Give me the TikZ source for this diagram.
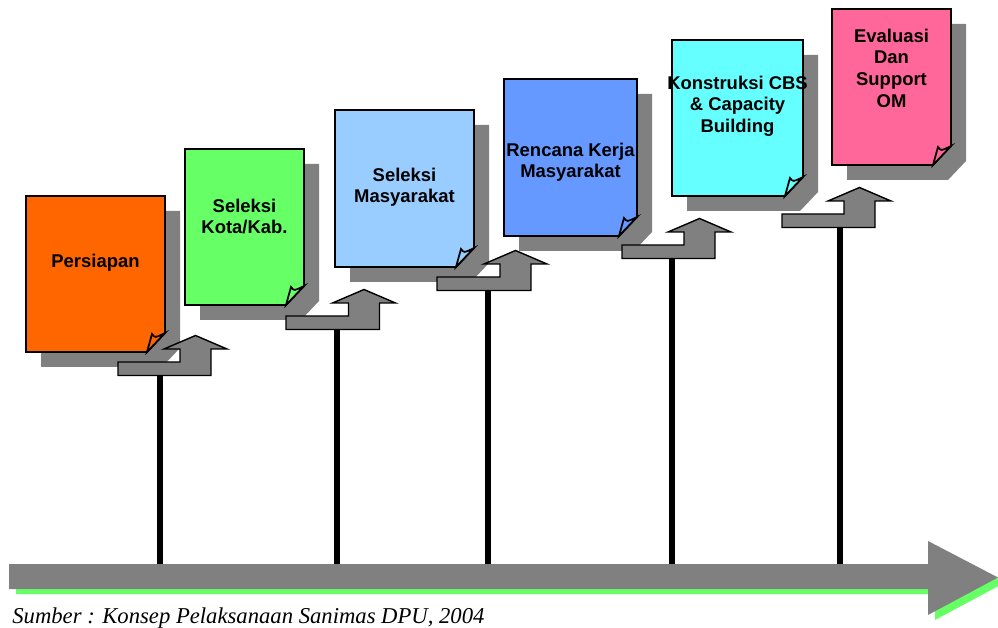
\documentclass[tikz,border=0pt]{standalone}
\usepackage{fontspec}
\setmainfont{Liberation Sans}
\newfontfamily\sourcefont{Liberation Serif}
\usepackage{tikz}
\usetikzlibrary{arrows}
\definecolor{cgray}{rgb}{0.5, 0.5, 0.5}
\definecolor{corange}{rgb}{1, 0.4, 0}
\definecolor{cgreen}{rgb}{0.4, 1, 0.4}
\definecolor{csky}{rgb}{0.6, 0.8, 1}
\definecolor{cblue}{rgb}{0.4, 0.6, 1}
\definecolor{ccyan}{rgb}{0.4, 1, 1}
\definecolor{cpink}{rgb}{1, 0.4, 0.6}

\newcommand{\docpage}[8]{%
  \fill[shadow node,shift={(15,15)}] (#2,#3) -- (#4,#3) -- (#4,#5-19) -- (#4-18,#5) -- (#2,#5) -- cycle;
  \draw[page node,fill=#6] (#2,#3) -- (#4,#3) -- (#4,#5-19) -- (#4-18,#5) -- (#2,#5) -- cycle;
  \draw[page node,fill=#6] (#4-18,#5) -- (#4-13,#5-18) .. controls (#4-10,#5-14) .. (#4,#5-19) -- cycle;
  \node[text node] (#1) at ({(#2+#4)/2},#8) {#7};
}

\begin{document}
\begin{tikzpicture}[x=0.02cm,y=-0.02cm,line join=miter,
  page node/.style={draw=black,line width=1pt},
  shadow node/.style={fill=cgray},
  text node/.style={anchor=north,align=center,inner sep=0pt,
    font=\fontsize{10.5}{12.3}\selectfont\bfseries},
  bent arrow/.style={draw=black,fill=cgray,line width=0.8pt},
  stem line/.style={draw=black,line width=3pt},
  source node/.style={anchor=base west,inner sep=0pt,
    font=\sourcefont\itshape\fontsize{12.9}{14}\selectfont}]
  \useasboundingbox (0,0) rectangle (998,628);

  \docpage{persiapan}{26}{196}{165}{352}{corange}{Persiapan}{253.5}
  \docpage{kota}{185}{149}{304}{305}{cgreen}{Seleksi\\Kota/Kab.}{198.5}
  \docpage{masyarakat}{335}{110}{474}{267}{csky}{Seleksi\\Masyarakat}{167.5}
  \docpage{rencana}{504}{79}{637}{236}{cblue}{Rencana Kerja\\Masyarakat}{142.5}
  \docpage{konstruksi}{672}{40}{803}{196}{ccyan}{Konstruksi CBS\\\& Capacity\\Building}{75.5}
  \docpage{evaluasi}{832}{9}{951}{165}{cpink}{Evaluasi\\Dan\\Support\\OM}{28.5}

  \foreach \bx/\by/\cx/\sx [count=\i] in {118/362/195.5/160, 286/316/364/337,
      437/277/515.5/488, 622/245/699.5/672, 782/214/859.5/840}{
    \draw[bent arrow] (\bx,\by) -- (\cx-15.5,\by) -- (\cx-15.5,\by-13) -- (\cx-31.5,\by-13)
      -- (\cx,\by-26.5) -- (\cx+31.5,\by-13) -- (\cx+15.5,\by-13) -- (\cx+15.5,\by+13.5)
      -- (\bx,\by+13.5) -- cycle;
    \coordinate (top\i) at (\sx,\by+13.5);
    \coordinate (foot\i) at (\sx,564);
    \draw[stem line] (top\i) -- (foot\i);
  }

  \fill[cgreen,shift={(7,5)}] (9,564) -- (928,564) -- (928,541) -- (998,577.5)
    -- (928,615) -- (928,589) -- (9,589) -- cycle;
  \fill[cgray] (9,564) -- (928,564) -- (928,541) -- (998,577.5)
    -- (928,615) -- (928,589) -- (9,589) -- cycle;

  \node[source node] (source) at (12,623) {Sumber : Konsep Pelaksanaan Sanimas DPU, 2004};
\end{tikzpicture}
\end{document}
